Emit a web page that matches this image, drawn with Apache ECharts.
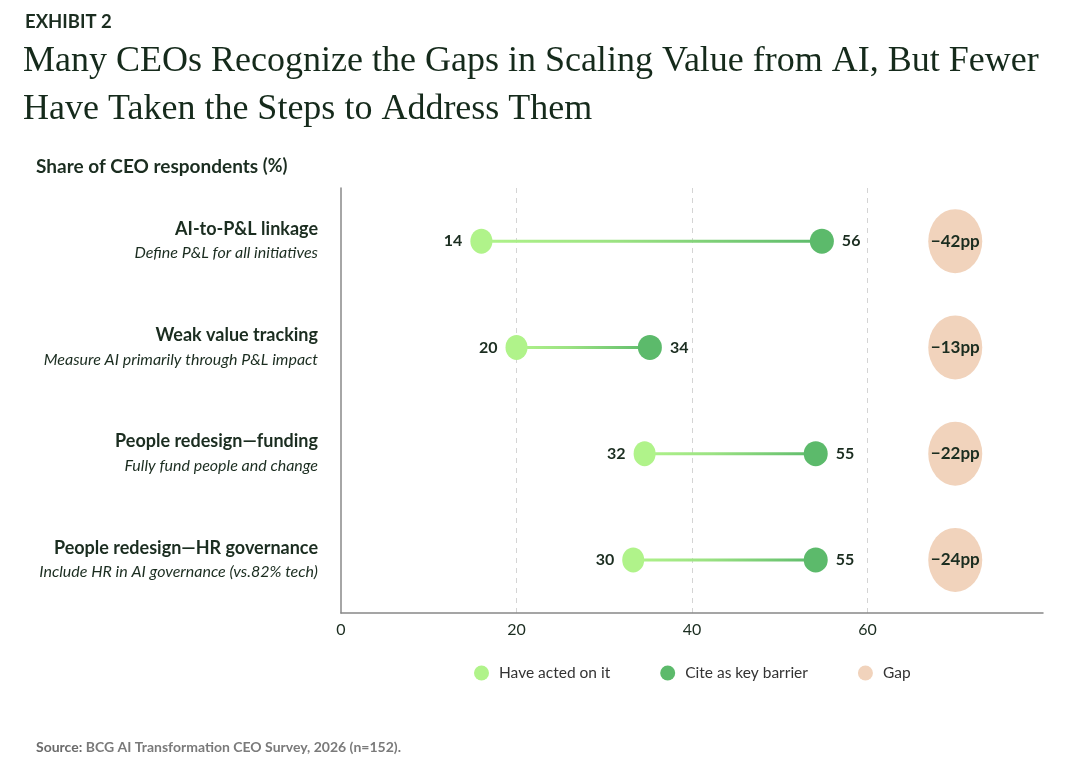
<!DOCTYPE html>
<html>
<head>
<meta charset="utf-8">
<script src="https://cdn.jsdelivr.net/npm/echarts@6/dist/echarts.min.js"></script>
<style>
html,body{margin:0;padding:0;background:#fff;}
#c{width:1080px;height:759px;}
</style>
</head>
<body>
<div id="c"></div>
<script>
// ---- data ----
var categories = ['AI-to-P&L linkage', 'Weak value tracking', 'People redesign\u2014funding', 'People redesign\u2014HR governance'];
var subtitles = ['Define P&L for all initiatives', 'Measure AI primarily through P&L impact', 'Fully fund people and change', 'Include HR in AI governance (vs.82% tech)'];
// reported values (labels)
var actedValues = [14, 20, 32, 30];
var barrierValues = [56, 34, 55, 55];
var gapValues = [-42, -13, -22, -24];
// positions as drawn in the picture
var actedPos = [16, 20, 34.6, 33.3];
var barrierPos = [54.8, 35.2, 54.1, 54.1];
var gapPos = [70, 70, 70, 70];
var xTicks = [0, 20, 40, 60];

var cLight = '#b0f38a', cDark = '#5cba6b', cGap = '#f1d3bc', cText = '#1b2d20';
var sans = 'Lato, "Open Sans", sans-serif';

var chart = echarts.init(document.getElementById('c'));
function pts(pos, vals){ return pos.map(function(p,i){ return {value:[p,i], lab:vals[i]}; }); }

chart.setOption({
  backgroundColor:'#fff',
  animation:false,
  title:[
    {text:'EXHIBIT 2', left:25, top:13, padding:0, textStyle:{fontFamily:sans, fontWeight:'bold', fontSize:18.5, color:cText}},
    {text:'Many CEOs Recognize the Gaps in Scaling Value from AI, But Fewer\nHave Taken the Steps to Address Them', left:23, top:38, padding:0,
      textStyle:{fontFamily:'"Liberation Serif", serif', fontWeight:'normal', fontSize:36, lineHeight:48, color:'#152a1b'}},
    {text:'Share of CEO respondents {n|(%)}', left:36, top:157, padding:0,
      textStyle:{fontFamily:sans, fontWeight:'bold', fontSize:19, color:cText, rich:{n:{fontFamily:sans, fontSize:18, color:cText}}}},
    {text:'{b|Source:} BCG AI Transformation CEO Survey, 2026 (n=152).', left:36, top:740, padding:0,
      textStyle:{fontFamily:sans, fontSize:14, color:'#7a7a7a', rich:{b:{fontFamily:sans, fontWeight:'bold', fontSize:14, color:'#6a6a6a'}}}}
  ],
  legend:{
    left:469, top:660, itemWidth:15, itemHeight:16, itemGap:50, icon:'circle',
    textStyle:{fontFamily:sans, fontSize:15.5, color:'#333', padding:[0,0,0,5]},
    data:['Have acted on it','Cite as key barrier','Gap']
  },
  grid:{left:341, right:37, top:188, bottom:146},
  xAxis:{
    type:'value', min:0, max:80, interval:20,
    axisLine:{show:true, onZero:false, lineStyle:{color:'#888', width:1.5}},
    axisTick:{show:false},
    axisLabel:{showMaxLabel:false, fontFamily:sans, fontSize:16, color:cText, margin:9,
      formatter:function(v){ return xTicks.indexOf(v) >= 0 ? String(v) : ''; }},
    splitLine:{show:true, showMinLine:false, showMaxLine:false, lineStyle:{color:'#d4d4d4', type:[5,5], width:1}}
  },
  yAxis:{
    type:'category', inverse:true, data:categories,
    axisLine:{show:true, lineStyle:{color:'#888', width:1.5}},
    axisTick:{show:false},
    splitLine:{show:false},
    axisLabel:{
      margin:23, align:'right',
      formatter:function(v, i){ return '{t|' + v + '}\n{s|' + subtitles[i] + '}'; },
      rich:{
        t:{fontFamily:sans, fontWeight:'bold', fontSize:18, color:cText, lineHeight:24, align:'right'},
        s:{fontFamily:sans, fontStyle:'italic', fontSize:16, color:cText, lineHeight:24, align:'right'}
      }
    }
  },
  series:[
    {
      type:'custom', name:'link', silent:true, z:1,
      data: actedPos.map(function(p,i){ return [p, barrierPos[i], i]; }),
      renderItem:function(params, api){
        var a = api.coord([api.value(0), api.value(2)]);
        var b = api.coord([api.value(1), api.value(2)]);
        return {type:'line', shape:{x1:a[0], y1:a[1], x2:b[0], y2:b[1]},
          style:{lineWidth:3, stroke:new echarts.graphic.LinearGradient(0,0,1,0,[{offset:0,color:cLight},{offset:0.4,color:'#9be282'},{offset:1,color:cDark}])}};
      }
    },
    {
      type:'scatter', name:'Have acted on it', z:3, symbolSize:[22,25],
      itemStyle:{color:cLight, opacity:1},
      data: pts(actedPos, actedValues),
      label:{show:true, position:'left', distance:8, fontFamily:sans, fontWeight:'bold', fontSize:16, color:cText,
        formatter:function(p){ return p.data.lab; }}
    },
    {
      type:'scatter', name:'Cite as key barrier', z:3, symbolSize:[24,25],
      itemStyle:{color:cDark, opacity:1},
      data: pts(barrierPos, barrierValues),
      label:{show:true, position:'right', distance:8, fontFamily:sans, fontWeight:'bold', fontSize:16, color:cText,
        formatter:function(p){ return p.data.lab; }}
    },
    {
      type:'scatter', name:'Gap', z:3, symbolSize:[54,64],
      itemStyle:{color:cGap, opacity:1},
      data: pts(gapPos, gapValues),
      label:{show:true, position:'inside', fontFamily:sans, fontWeight:'bold', fontSize:17, color:cText,
        formatter:function(p){ return '\u2212' + Math.abs(p.data.lab) + 'pp'; }}
    }
  ]
});
</script>
</body>
</html>
